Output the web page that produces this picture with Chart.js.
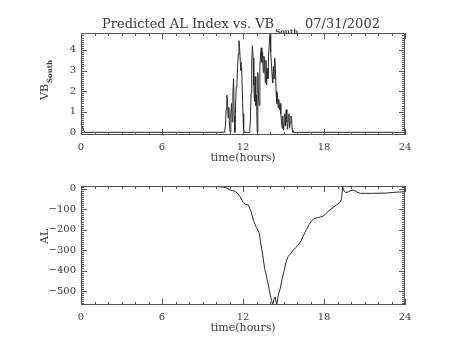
<!DOCTYPE html>
<html>
<head>
<meta charset="utf-8">
<script src="https://cdn.jsdelivr.net/npm/chart.js@4.4.1/dist/chart.umd.min.js"></script>
<style>
  html, body { margin: 0; padding: 0; background: #fff; }
  #wrap { position: relative; width: 453px; height: 340px; }
  #wrap canvas { position: absolute; left: 0; }
</style>
</head>
<body>
<div id="wrap">
  <canvas id="vb-chart" width="453" height="170" style="top:0"></canvas>
  <canvas id="al-chart" width="453" height="170" style="top:170px"></canvas>
</div>
<script>
// ticks do eixo x (horas)
const xTicks = [0, 6, 12, 18, 24];
const vbTicks = [0, 1, 2, 3, 4];
const alTicks = [0, -100, -200, -300, -400, -500];

// VB south
const vbHours = [0, 0.1, 0.2, 0.3, 10.55, 10.6, 10.65, 10.7, 10.75, 10.8, 10.85, 10.9, 10.95, 11.0,
  11.05, 11.1, 11.15, 11.2, 11.25, 11.3, 11.35, 11.4, 11.45, 11.5, 11.55, 11.6, 11.65, 11.7,
  11.75, 11.8, 11.85, 11.9, 11.95, 12.0, 12.05, 12.45, 12.5, 12.55, 12.6, 12.65, 12.7, 12.75,
  12.8, 12.85, 12.9, 12.95, 13.0, 13.05, 13.1, 13.15, 13.2, 13.25, 13.3, 13.35, 13.4, 13.45,
  13.5, 13.55, 13.6, 13.65, 13.7, 13.75, 13.8, 13.85, 13.9, 13.95, 14.0, 14.05, 14.1, 14.15,
  14.2, 14.25, 14.3, 14.35, 14.4, 14.45, 14.5, 14.55, 14.6, 14.65, 14.7, 14.75, 14.8, 14.85,
  14.9, 14.95, 15.0, 15.05, 15.1, 15.15, 15.2, 15.25, 15.3, 15.35, 15.4, 15.45, 15.5, 15.55,
  15.6, 15.65, 15.7, 15.75, 24];
const vbValues = [0, 0.3, 0.1, 0, 0, 0, 0.1, 0.3, 1.1, 1.8, 1.6, 0.7, 1.2, 0.3,
  0, 0.9, 1.4, 0.5, 1.9, 2.6, 0.8, 0, 1.3, 2.2, 2.4, 3.2, 3.8, 4.45,
  4.1, 3.4, 3.0, 3.1, 2.0, 0.9, 0, 0, 0.1, 0.6, 1.9, 3.5, 4.2, 3.6,
  2.3, 1.5, 2.7, 1.3, 1.8, 0, 2.9, 1.6, 1.3, 3.2, 3.8, 4.1, 3.4, 3.9,
  2.9, 3.7, 3.4, 2.4, 3.5, 2.3, 3.1, 2.6, 3.8, 4.3, 4.8, 3.9, 3.4, 2.8,
  2.4, 3.2, 2.6, 3.6, 3.1, 2.0, 1.4, 1.9, 1.2, 1.6, 1.1, 1.4, 0.9, 0.5,
  0.2, 0.8, 0.1, 0.4, 0.9, 0.3, 1.1, 0.5, 0.15, 0.6, 0.9, 0.2, 0.5, 0.8,
  0.6, 0.1, 0, 0, 0];

// AL previsto
const alHours = [0, 1, 2, 3, 4, 5, 6, 7, 8, 9, 10, 10.5, 10.8, 11.0, 11.2, 11.4, 11.6, 11.8,
  12.0, 12.2, 12.4, 12.6, 12.8, 13.0, 13.2, 13.3, 13.45, 13.6, 13.75, 13.9, 14.05, 14.2, 14.3,
  14.38, 14.5, 14.62, 14.75, 14.9, 15.05, 15.2, 15.35, 15.5, 15.7, 15.9, 16.1, 16.3, 16.5,
  16.7, 16.9, 17.1, 17.3, 17.6, 17.9, 18.1, 18.3, 18.6, 18.9, 19.2, 19.3, 19.38, 19.5, 19.6,
  19.8, 20.0, 20.2, 20.4, 20.7, 21.5, 22.5, 23.2, 24];
const alValues = [12, 11, 13, 12, 11, 12, 12, 13, 12, 11, 11, 9, 4, -4, -8, -12, -22, -40,
  -66, -76, -80, -112, -160, -190, -215, -260, -320, -390, -430, -480, -530, -568, -540,
  -530, -568, -520, -490, -440, -400, -355, -330, -320, -302, -288, -275, -255, -225,
  -200, -175, -155, -145, -140, -135, -125, -110, -95, -80, -65, -50, 10, -12, -18,
  -15, -8, -6, -14, -22, -22, -21, -17, -14];

const FONT = '"DejaVu Serif", serif';
const INK = '#3a3a3a';

// moldura + ticks para dentro nos quatro lados
const frameTicks = {
    id: 'frameTicks',
    afterDraw(chart, args, opts) {
        const { ctx, chartArea: a, scales: { x, y } } = chart;
        ctx.save();
        ctx.strokeStyle = '#555';
        ctx.lineWidth = 1;
        ctx.strokeRect(a.left + 0.5, a.top + 0.5, a.right - a.left - 1, a.bottom - a.top - 1);
        ctx.beginPath();
        for (let h = x.min; h <= x.max; h += 1) {
            const px = Math.round(x.getPixelForValue(h)) + 0.5;
            const len = xTicks.includes(h) ? 6 : 3;
            ctx.moveTo(px, a.bottom); ctx.lineTo(px, a.bottom - len);
            ctx.moveTo(px, a.top); ctx.lineTo(px, a.top + len);
        }
        const step = opts.minorStep;
        const start = Math.ceil(y.min / step) * step;
        for (let v = start; v <= y.max + 1e-9; v += step) {
            const py = Math.round(y.getPixelForValue(v)) + 0.5;
            const major = opts.majors.some(m => Math.abs(m - v) < step / 2);
            const len = major ? 6 : 3;
            ctx.moveTo(a.left, py); ctx.lineTo(a.left + len, py);
            ctx.moveTo(a.right, py); ctx.lineTo(a.right - len, py);
        }
        ctx.stroke();
        ctx.restore();
    }
};

// textos: titulo, eixo x e eixo y (com subscrito)
const texts = {
    id: 'texts',
    afterDraw(chart, args, opts) {
        const { ctx, chartArea: a } = chart;
        ctx.save();
        ctx.fillStyle = INK;
        ctx.textBaseline = 'alphabetic';
        if (opts.title) {
            ctx.font = '13px ' + FONT;
            ctx.textAlign = 'left';
            const main = 'Predicted AL Index vs. VB';
            ctx.fillText(main, 102, 28);
            const w = ctx.measureText(main).width;
            ctx.font = 'bold 7px ' + FONT;
            ctx.fillText('South', 102 + w + 1, 34);
            ctx.font = '13px ' + FONT;
            ctx.fillText('07/31/2002', 305, 28);
        }
        ctx.font = '11px ' + FONT;
        ctx.textAlign = 'center';
        ctx.fillText('time(hours)', (a.left + a.right) / 2, a.bottom + 26);

        ctx.translate(48, opts.yLabelY);
        ctx.rotate(-Math.PI / 2);
        ctx.textAlign = 'left';
        ctx.font = '11px ' + FONT;
        ctx.fillText(opts.yLabel, 0, 0);
        if (opts.ySub) {
            const w = ctx.measureText(opts.yLabel).width;
            ctx.font = 'bold 7px ' + FONT;
            ctx.fillText(opts.ySub, w + 1, 4);
        }
        ctx.restore();
    }
};

function makeChart(canvasId, hours, values, yMin, yMax, yTicks, textOpts, minorStep, padTop) {
    const ctx = document.getElementById(canvasId);
    return new Chart(ctx, {
        type: 'line',
        data: {
            datasets: [{
                data: hours.map((h, i) => ({ x: h, y: values[i] })),
                borderColor: '#2a2a2a',
                borderWidth: 1,
                pointRadius: 0,
                tension: 0,
                fill: false
            }]
        },
        options: {
            responsive: false,
            animation: false,
            layout: { padding: { left: 0, right: 48, top: padTop, bottom: 0 } },
            plugins: {
                legend: { display: false },
                tooltip: { enabled: false },
                frameTicks: { minorStep: minorStep, majors: yTicks },
                texts: textOpts
            },
            scales: {
                x: {
                    type: 'linear',
                    min: 0,
                    max: 24,
                    afterBuildTicks: s => { s.ticks = xTicks.map(v => ({ value: v })); },
                    afterFit: s => { s.height = 35; },
                    grid: { display: false, drawTicks: false, tickLength: 0 },
                    border: { display: false },
                    ticks: {
                        padding: 6,
                        color: INK,
                        font: { family: FONT, size: 10 },
                        maxRotation: 0
                    }
                },
                y: {
                    type: 'linear',
                    min: yMin,
                    max: yMax,
                    afterBuildTicks: s => { s.ticks = yTicks.map(v => ({ value: v })); },
                    afterFit: s => { s.width = 81; },
                    grid: { display: false, drawTicks: false, tickLength: 0 },
                    border: { display: false },
                    ticks: {
                        padding: 5,
                        color: INK,
                        font: { family: FONT, size: 10 },
                        callback: v => String(v).replace('-', '\u2212')
                    }
                }
            }
        },
        plugins: [frameTicks, texts]
    });
}

makeChart('vb-chart', vbHours, vbValues, -0.13, 4.82, vbTicks,
    { title: true, yLabel: 'VB', ySub: 'South', yLabelY: 100 }, 0.1, 33);
makeChart('al-chart', alHours, alValues, -569, 14, alTicks,
    { title: false, yLabel: 'AL', ySub: '', yLabelY: 74 }, 10, 16);
</script>
</body>
</html>
